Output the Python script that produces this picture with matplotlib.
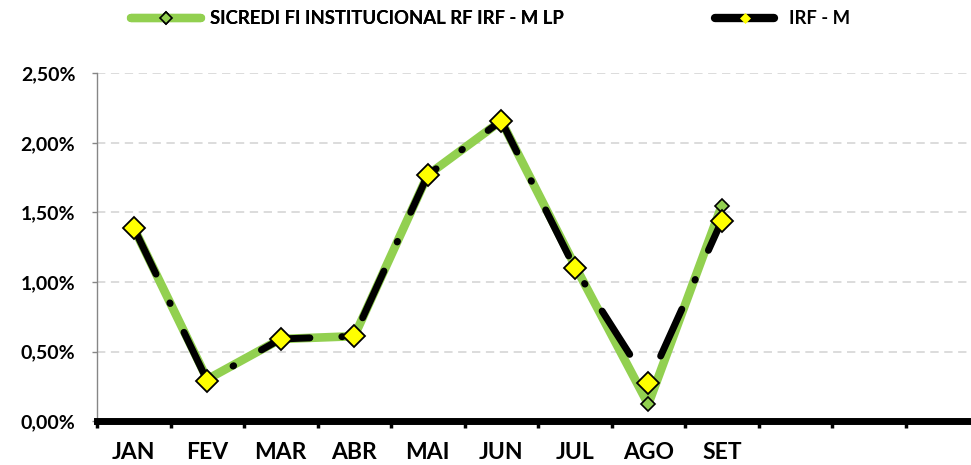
import numpy as np
import matplotlib
matplotlib.use('Agg')
import matplotlib.pyplot as plt
from matplotlib.lines import Line2D
from matplotlib.ticker import FuncFormatter, FixedLocator

months = ['JAN', 'FEV', 'MAR', 'ABR', 'MAI', 'JUN', 'JUL', 'AGO', 'SET', '', '', '']
fundo = [1.39, 0.30, 0.59, 0.61, 1.77, 2.16, 1.12, 0.12, 1.55]
irfm = [1.39, 0.29, 0.59, 0.61, 1.77, 2.16, 1.10, 0.27, 1.44]
name_fundo = 'SICREDI FI INSTITUCIONAL RF IRF - M LP'
name_irfm = 'IRF - M'

GREEN = '#92D050'
YELLOW = '#FFFF00'

plt.rcParams['font.family'] = ['Lato', 'DejaVu Sans']
plt.rcParams['font.weight'] = 'bold'
plt.rcParams['lines.scale_dashes'] = False

fig = plt.figure(figsize=(9.71, 4.65), dpi=100)
ax = fig.add_axes([97 / 971, 44 / 465, 882 / 971, 347.5 / 465])

x = np.arange(len(fundo))
ax.plot(x, fundo, color=GREEN, lw=6.2, solid_joinstyle='round',
        marker='D', ms=7, mfc=GREEN, mec='black', mew=1.2, zorder=3)
ax.plot(x, irfm, color='black', lw=5, linestyle=(0, (37, 23, 0.5, 23)),
        dash_capstyle='round', marker='D', ms=11, mfc=YELLOW, mec='black',
        mew=1.3, zorder=4)

ax.set_xlim(-0.5, len(months) - 0.5)
ax.set_ylim(0, 2.5)

# tick marks between categories, labels centred
ax.xaxis.set_major_locator(FixedLocator(np.arange(len(months) + 1) - 0.5))
ax.xaxis.set_minor_locator(FixedLocator(np.arange(len(months))))
ax.set_xticklabels([], minor=False)
ax.set_xticklabels(months, minor=True)
ax.tick_params(axis='x', which='major', direction='out', length=5, width=2.5,
               color='black')
ax.tick_params(axis='x', which='minor', length=0, pad=15, labelsize=16.5)

ax.set_yticks(np.arange(0, 2.51, 0.5))
ax.yaxis.set_major_formatter(FuncFormatter(lambda v, p: ('%.2f%%' % v).replace('.', ',')))
ax.tick_params(axis='y', direction='out', length=3.6, width=1, color='#868686',
               pad=12, labelsize=14)

ax.grid(axis='y', color='#D9D9D9', lw=1.3, linestyle=(0, (6, 4)))
ax.set_axisbelow(True)

for s in ['top', 'right']:
    ax.spines[s].set_visible(False)
ax.spines['left'].set_color('#868686')
ax.spines['left'].set_linewidth(1)
ax.spines['bottom'].set_color('black')
ax.spines['bottom'].set_linewidth(5)
ax.spines['bottom'].set_zorder(5)

h1 = Line2D([], [], color=GREEN, lw=6, solid_capstyle='round', marker='D',
            ms=6, mfc=GREEN, mec='black', mew=1.2)
h2 = Line2D([], [], color='black', lw=6, solid_capstyle='round', marker='D',
            ms=5, mfc=YELLOW, mec=YELLOW, mew=0.5)
leg1 = fig.legend([h1], [name_fundo], loc='center left',
                  bbox_to_anchor=(131 / 971, 1 - 19 / 465), frameon=False,
                  fontsize=13.3, handlelength=3.8, handletextpad=0.5,
                  borderpad=0, borderaxespad=0, numpoints=1)
leg2 = fig.legend([h2], [name_irfm], loc='center left',
                  bbox_to_anchor=(715 / 971, 1 - 19 / 465), frameon=False,
                  fontsize=13.3, handlelength=3.2, handletextpad=0.8,
                  borderpad=0, borderaxespad=0, numpoints=1)
fig.add_artist(leg1)

fig.savefig('out.png', dpi=100)
